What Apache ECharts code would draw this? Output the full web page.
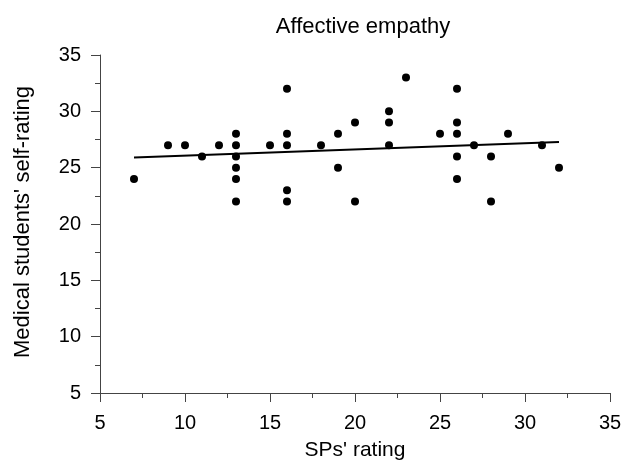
<!DOCTYPE html>
<html>
<head>
<meta charset="utf-8">
<script src="https://cdn.jsdelivr.net/npm/echarts@6/dist/echarts.min.js"></script>
<style>html,body{margin:0;padding:0;background:#fff}#c{width:632px;height:466px}</style>
</head>
<body>
<div id="c"></div>
<script>
// SPs' rating (x) and medical students' self-rating (y)
const spRating = [7, 9, 10, 11, 12, 13, 13, 13, 13, 13, 13, 15, 16, 16, 16, 16, 16, 18, 19, 19, 20, 20, 22, 22, 22, 23, 25, 26, 26, 26, 26, 26, 27, 28, 28, 29, 31, 32];
const selfRating = [24, 27, 27, 26, 27, 28, 27, 26, 25, 24, 22, 27, 32, 28, 27, 23, 22, 27, 28, 25, 29, 22, 30, 29, 27, 33, 28, 32, 29, 28, 26, 24, 27, 26, 22, 28, 27, 25];
// fitted trend line end points
const trendX = [7, 32];
const trendY = [25.9, 27.28];
const xTicks = [5, 10, 15, 20, 25, 30, 35];
const yTicks = [5, 10, 15, 20, 25, 30, 35];

const points = spRating.map((x, i) => [x, selfRating[i]]);
const trend = trendX.map((x, i) => [x, trendY[i]]);
const FONT = 'Liberation Sans, Arial, sans-serif';
const axisCommon = {
  axisLine: { show: true, lineStyle: { color: '#444', width: 1 } },
  axisTick: { show: true, length: 9, lineStyle: { color: '#444', width: 1 } },
  minorTick: { show: true, splitNumber: 2, length: 5, lineStyle: { color: '#444', width: 1 } },
  splitLine: { show: false },
  minorSplitLine: { show: false }
};
const chart = echarts.init(document.getElementById('c'), null, { renderer: 'canvas' });
chart.setOption({
  animation: false,
  backgroundColor: '#fff',
  title: {
    text: 'Affective empathy',
    left: 363, textAlign: 'center', top: 16, padding: 0,
    textStyle: { fontFamily: FONT, fontSize: 22, fontWeight: 'normal', color: '#000' }
  },
  grid: { left: 100, right: 22, top: 55, bottom: 70, containLabel: false },
  xAxis: Object.assign({
    type: 'value', min: xTicks[0], max: xTicks[xTicks.length - 1], interval: 5,
    name: "SPs' rating", nameLocation: 'middle', nameGap: 47,
    nameTextStyle: { fontFamily: FONT, fontSize: 21, color: '#000' },
    axisLabel: { margin: 20, fontFamily: FONT, fontSize: 20, color: '#000' }
  }, axisCommon),
  yAxis: Object.assign({
    type: 'value', min: yTicks[0], max: yTicks[yTicks.length - 1], interval: 5,
    name: "Medical students' self-rating", nameLocation: 'middle', nameGap: 66,
    nameTextStyle: { fontFamily: FONT, fontSize: 22, color: '#000', padding: [0, 0, 0, 4] },
    axisLabel: { margin: 19, fontFamily: FONT, fontSize: 20, color: '#000' }
  }, axisCommon),
  series: [
    {
      type: 'line', data: trend, symbol: 'none', silent: true,
      lineStyle: { color: '#000', width: 2 }, z: 1
    },
    {
      type: 'scatter', data: points, symbol: 'circle', symbolSize: 8,
      itemStyle: { color: '#000', opacity: 1 }, z: 2
    }
  ]
});
</script>
</body>
</html>
